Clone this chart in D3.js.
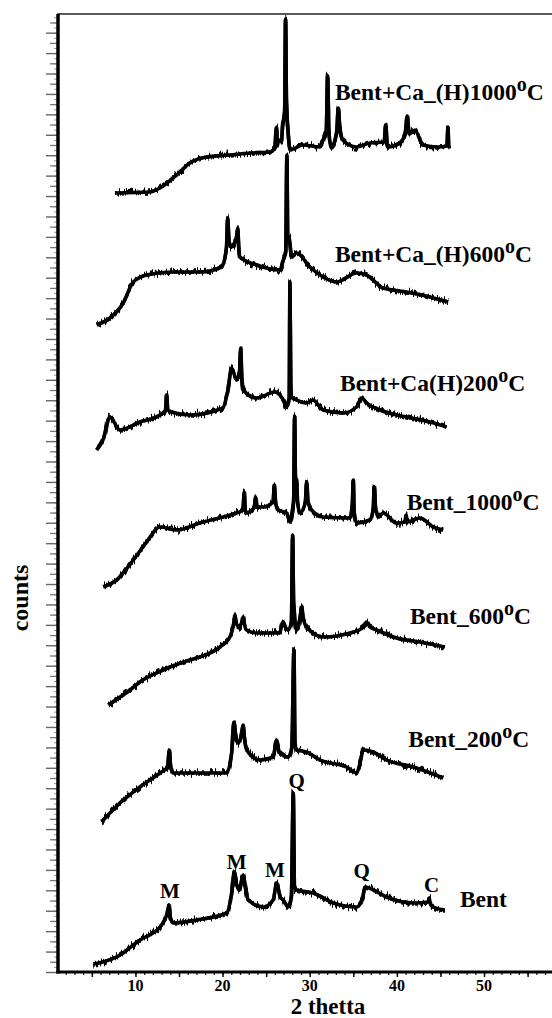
<!DOCTYPE html>
<html>
<head>
<meta charset="utf-8">
<script src="https://cdn.jsdelivr.net/npm/d3@7"></script>
<style>
  body { margin: 0; background: #fff; }
  text { font-family: "Liberation Serif", "Times New Roman", serif; font-weight: bold; }
</style>
</head>
<body>
<svg id="chart"></svg>
<script>
// XRD patterns, stacked, [2 theta, counts]

const bentCa1000 = [[7.65,779],[11.66,780],[12.81,784],[14.73,797],[16.25,809],[18.17,815],[20.84,817],[23.14,819],[25.43,820],[26.01,824],[26.12,840],[26.2,845],[26.28,826],[26.39,832],[26.75,830],[26.89,847],[27.12,860],[27.23,953],[27.33,870],[27.53,839],[27.73,822],[29.22,827],[31.17,825],[31.51,832],[31.9,840],[32.05,896],[32.2,840],[32.51,824],[33.1,840],[33.27,864],[33.45,845],[33.81,832],[35.38,825],[36.91,829],[38.55,830],[38.71,847],[38.87,828],[38.97,825],[40.35,829],[41.0,840],[41.19,856],[41.4,838],[42.07,842],[42.99,827],[44.71,825],[45.75,826],[45.86,845],[45.95,826],[46.09,824]];

const bentCa600 = [[5.55,647],[7.07,654],[8.6,669],[9.75,690],[11.29,697],[14.34,700],[17.4,700],[19.89,705],[20.45,725],[20.58,754],[20.75,730],[21.04,725],[21.6,735],[21.73,744],[21.85,725],[21.99,715],[23.91,707],[26.58,702],[26.96,712],[27.25,720],[27.38,817],[27.48,730],[27.61,735],[27.92,715],[28.5,719],[30.02,705],[31.55,695],[33.09,690],[35.38,699],[36.53,697],[38.43,684],[41.12,680],[43.79,675],[45.89,670]];

const bentCa200 = [[5.55,522],[6.27,532],[7.07,555],[8.22,542],[10.52,550],[12.81,557],[13.45,562],[13.58,577],[13.72,562],[14.15,560],[16.25,557],[20.04,564],[20.61,582],[21.04,604],[21.61,592],[21.95,600],[22.07,624],[22.2,595],[22.37,582],[23.91,574],[26.01,580],[26.96,572],[27.35,565],[27.65,575],[27.73,690],[27.82,590],[27.92,575],[28.5,572],[29.64,569],[30.37,572],[31.51,562],[33.81,559],[35.38,565],[35.96,574],[36.53,569],[38.06,562],[41.12,555],[43.79,550],[45.71,545]];

const bent1000 = [[6.31,385],[7.84,392],[9.75,412],[11.29,430],[12.81,445],[14.73,442],[17.4,449],[20.07,455],[21.61,459],[22.35,462],[22.48,480],[22.6,462],[22.76,459],[23.65,465],[23.79,475],[23.95,465],[24.66,465],[25.8,470],[25.93,487],[26.1,468],[26.39,462],[27.35,459],[27.73,450],[28.15,470],[28.27,556],[28.38,480],[28.5,492],[28.6,470],[28.88,459],[29.5,470],[29.64,490],[29.8,470],[30.22,462],[31.55,455],[34.61,454],[34.9,470],[34.99,492],[35.1,460],[35.38,449],[36.91,452],[37.3,465],[37.4,485],[37.55,465],[37.86,455],[38.43,459],[39.97,449],[40.95,450],[41.04,457],[41.15,450],[42.65,454],[44.17,445],[45.32,442]];

const bent600 = [[6.88,267],[9.37,282],[10.52,290],[13.19,302],[16.25,312],[17.4,315],[19.7,325],[20.84,335],[21.3,350],[21.42,357],[21.6,348],[21.91,345],[22.2,350],[22.37,355],[22.5,348],[22.76,342],[23.91,339],[26.58,339],[26.8,348],[26.96,350],[27.2,345],[27.53,342],[27.9,350],[28.04,437],[28.15,370],[28.5,342],[28.9,355],[29.07,365],[29.3,352],[29.64,345],[31.55,335],[34.61,339],[36.2,345],[36.53,350],[36.9,345],[37.68,342],[39.97,334],[42.65,330],[45.51,325]];

const bent200 = [[6.12,150],[8.22,169],[10.52,185],[12.81,199],[13.7,205],[13.88,222],[14.05,205],[14.34,199],[17.02,199],[20.46,199],[21.04,219],[21.3,250],[21.5,235],[21.8,229],[22.1,235],[22.37,247],[22.5,235],[22.76,222],[24.29,212],[25.81,215],[26.2,232],[26.5,220],[27.53,215],[27.95,225],[28.19,322],[28.3,230],[28.5,222],[29.64,220],[31.17,212],[34.23,205],[35.38,199],[35.8,210],[36.14,222],[37.29,220],[38.82,212],[41.88,205],[45.32,194]];

const bent = [[5.16,8],[6.27,10],[7.84,15],[10.52,32],[12.81,45],[13.65,59],[13.84,67],[14.0,55],[14.34,49],[17.02,52],[20.46,59],[21.04,79],[21.34,100],[21.6,88],[21.91,82],[22.37,97],[22.6,85],[22.94,72],[24.66,65],[25.81,72],[26.2,89],[26.6,75],[26.96,72],[27.53,65],[27.9,75],[28.11,179],[28.25,85],[28.5,82],[30.4,79],[32.7,69],[35.38,65],[36.1,75],[36.33,85],[37.29,82],[38.82,75],[42.0,69],[43.6,70],[43.71,74],[43.85,68],[44.17,65],[45.51,62]];

const seriesData = [bentCa1000, bentCa600, bentCa200, bent1000, bent600, bent200, bent];
const seriesNames = ["Bent+Ca_(H)1000", "Bent+Ca_(H)600", "Bent+Ca(H)200", "Bent_1000", "Bent_600", "Bent_200", "Bent"];
const seriesHasTemp = [true, true, true, true, true, true, false];

// phase marks on the Bent pattern (M montmorillonite, Q quartz, C calcite)
const phaseNames = ["M", "M", "M", "Q", "Q", "C"];
const phaseTheta = [13.96, 21.61, 26.01, 28.5, 35.96, 43.99];
const phaseCounts = [74, 103, 95, 184, 94, 80];

const xTickLabels = [10, 20, 30, 40, 50];

// svg window
let win = {w: 552, h: 1018};
const svg = d3.select("#chart")
  .attr("width", win.w)
  .attr("height", win.h);

// scales
let x = d3.scaleLinear().domain([1, 57.8]).range([57, 552]);
let y = d3.scaleLinear().domain([0, 958]).range([972, 14]);

// grainy look of the detector trace (render texture only, data untouched)
const defs = svg.append("defs");
const grain = defs.append("filter")
  .attr("id", "grain")
  .attr("x", "-5%").attr("y", "-5%")
  .attr("width", "110%").attr("height", "110%")
  .attr("color-interpolation-filters", "sRGB");
grain.append("feTurbulence")
  .attr("type", "fractalNoise")
  .attr("baseFrequency", "0.7 0.05")
  .attr("numOctaves", 1)
  .attr("seed", 3)
  .attr("result", "noise");
grain.append("feColorMatrix")
  .attr("in", "noise")
  .attr("type", "matrix")
  .attr("values", "0 0 0 0 0.5  0 1 0 0 0  0 0 1 0 0  0 0 0 0 1")
  .attr("result", "shift");
grain.append("feDisplacementMap")
  .attr("in", "SourceGraphic")
  .attr("in2", "shift")
  .attr("scale", 13)
  .attr("xChannelSelector", "R")
  .attr("yChannelSelector", "G");

// patterns
let line = d3.line()
  .x(d => x(d[0]))
  .y(d => y(d[1]))
  .curve(d3.curveMonotoneX);

const traces = svg.append("g");

// solid core
traces.append("g")
  .selectAll("path")
  .data(seriesData)
  .enter()
  .append("path")
  .attr("d", line)
  .attr("fill", "none")
  .attr("stroke", "#000")
  .attr("stroke-width", 3.6)
  .attr("stroke-linejoin", "round");

// noisy fringe
traces.append("g")
  .attr("filter", "url(#grain)")
  .selectAll("path")
  .data(seriesData)
  .enter()
  .append("path")
  .attr("d", line)
  .attr("fill", "none")
  .attr("stroke", "#000")
  .attr("stroke-width", 3.6)
  .attr("stroke-linejoin", "round");

// frame top
svg.append("line")
  .attr("x1", x(1)).attr("x2", 552)
  .attr("y1", y(958)).attr("y2", y(958))
  .attr("stroke", "#222").attr("stroke-width", 1.6);

// x axis: unit minor ticks, longer every 5
const xAxis = svg.append("g").attr("transform", "translate(0," + y(0) + ")");
xAxis.append("g")
  .call(d3.axisBottom(x).tickValues(d3.range(2, 58)).tickSize(3).tickFormat(""))
  .call(g => g.select(".domain").remove())
  .call(g => g.selectAll("line").attr("stroke", "#222").attr("stroke-width", 1.3));
xAxis.append("g")
  .call(d3.axisBottom(x).tickValues(d3.range(5, 58, 5)).tickSize(5).tickFormat(""))
  .call(g => g.select(".domain").remove())
  .call(g => g.selectAll("line").attr("stroke", "#111").attr("stroke-width", 1.5));
xAxis.append("line")
  .attr("x1", x(1) - 1).attr("x2", 552)
  .attr("stroke", "#000").attr("stroke-width", 3);
xAxis.selectAll(".xlab")
  .data(xTickLabels)
  .enter()
  .append("text")
  .attr("x", d => x(d))
  .attr("y", 19)
  .attr("text-anchor", "middle")
  .attr("font-size", 16)
  .text(d => d);

// y axis: ticks only, no labels
const yAxis = svg.append("g").attr("transform", "translate(" + x(1) + ",0)");
let yStep = 20.42;
yAxis.append("g")
  .call(d3.axisLeft(y).tickValues(d3.range(0, 955, yStep / 4)).tickSize(3).tickFormat(""))
  .call(g => g.select(".domain").remove())
  .call(g => g.selectAll("line").attr("stroke", "#999").attr("stroke-width", 1));
yAxis.append("g")
  .call(d3.axisLeft(y).tickValues(d3.range(yStep / 2, 955, yStep)).tickSize(7).tickFormat(""))
  .call(g => g.select(".domain").remove())
  .call(g => g.selectAll("line").attr("stroke", "#777").attr("stroke-width", 1.3));
yAxis.append("g")
  .call(d3.axisLeft(y).tickValues(d3.range(0, 955, yStep)).tickSize(11).tickFormat(""))
  .call(g => g.select(".domain").remove())
  .call(g => g.selectAll("line").attr("stroke", "#666").attr("stroke-width", 1.4));
yAxis.append("line")
  .attr("x1", 1).attr("x2", 1)
  .attr("y1", y(958)).attr("y2", y(0) + 1.5)
  .attr("stroke", "#000").attr("stroke-width", 3.5);

// axis titles
svg.append("text")
  .attr("x", 328)
  .attr("y", 1014)
  .attr("text-anchor", "middle")
  .attr("font-size", 23)
  .text("2 thetta");

svg.append("text")
  .attr("transform", "translate(28,598) rotate(-90)")
  .attr("text-anchor", "middle")
  .attr("font-size", 24)
  .text("counts");

// series labels, anchored in data units
let labelPos = [[32.89, 872], [32.89, 710], [33.47, 581], [41.12, 462], [41.5, 348], [41.3, 225], [47.23, 65]];

seriesNames.forEach(function(name, i) {
  let t = svg.append("text")
    .attr("x", x(labelPos[i][0]))
    .attr("y", y(labelPos[i][1]))
    .attr("font-size", 23.5);
  t.append("tspan").text(name);
  if (seriesHasTemp[i]) {
    t.append("tspan").attr("dy", -9).attr("font-size", 20).text("o");
    t.append("tspan").attr("dy", 9).text("C");
  }
});

// phase letters
svg.append("g").selectAll("text")
  .data(phaseNames)
  .enter()
  .append("text")
  .attr("x", (d, i) => x(phaseTheta[i]))
  .attr("y", (d, i) => y(phaseCounts[i]))
  .attr("text-anchor", "middle")
  .attr("font-size", 21)
  .text(d => d);
</script>
</body>
</html>
